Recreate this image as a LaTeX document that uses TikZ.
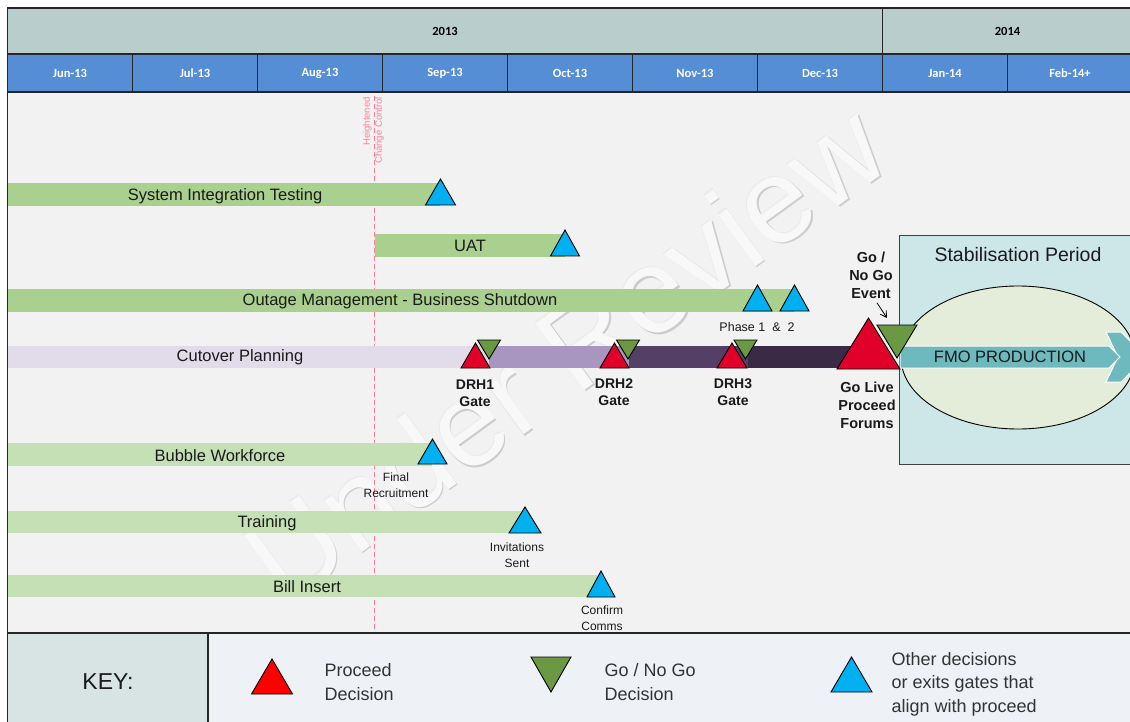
\documentclass[tikz,border=0pt]{standalone}
\usepackage{fontspec}
\setmainfont{Liberation Sans}
\newfontfamily\hdrfont{Carlito}
\usetikzlibrary{arrows.meta}

\definecolor{bodybg}{RGB}{242,242,242}
\definecolor{yearbg}{RGB}{185,205,204}
\definecolor{monthbg}{RGB}{85,142,213}
\definecolor{bardark}{RGB}{169,208,142}
\definecolor{barlight}{RGB}{197,224,180}
\definecolor{cutA}{RGB}{226,220,234}
\definecolor{cutB}{RGB}{168,150,192}
\definecolor{cutC}{RGB}{84,63,102}
\definecolor{cutD}{RGB}{59,42,69}
\definecolor{proceedred}{RGB}{224,0,42}
\definecolor{keyred}{RGB}{255,0,0}
\definecolor{gogreen}{RGB}{107,152,66}
\definecolor{otherblue}{RGB}{0,176,240}
\definecolor{stabbg}{RGB}{205,230,232}
\definecolor{ellbg}{RGB}{227,237,217}
\definecolor{fmoteal}{RGB}{109,185,189}
\definecolor{keyleft}{RGB}{216,227,227}
\definecolor{keyright}{RGB}{238,242,246}
\definecolor{changepink}{RGB}{255,128,153}
\definecolor{gridline}{RGB}{38,38,38}
\definecolor{labeltext}{RGB}{26,26,26}
\definecolor{wmfill}{RGB}{248,248,248}

% upward triangle: base centre (x,y), width, height, fill
\newcommand\uptri[5]{\filldraw[trishape,fill=#5] ({#1-#3/2},#2) -- (#1,{#2-#4}) -- ({#1+#3/2},#2) -- cycle;}
% downward triangle: top centre (x,y), width, height, fill
\newcommand\downtri[5]{\filldraw[trishape,fill=#5] ({#1-#3/2},#2) -- (#1,{#2+#4}) -- ({#1+#3/2},#2) -- cycle;}

\begin{document}
\begin{tikzpicture}[x=1pt,y=-1pt,
  trishape/.style={draw=black,line width=0.9pt,line join=miter},
  hdrline/.style={draw=gridline,line width=1.1pt},
  yeartext/.style={font=\hdrfont\bfseries\fontsize{12.5}{14}\selectfont,text=black},
  monthtext/.style={font=\hdrfont\bfseries\fontsize{12.5}{14}\selectfont,text=white},
  barlabel/.style={font=\fontsize{16.5}{19}\selectfont,text=labeltext},
  gatelabel/.style={font=\bfseries\fontsize{14}{17}\selectfont,text=labeltext,align=center},
  smalllabel/.style={font=\fontsize{12}{15.5}\selectfont,text=labeltext,align=center},
  keytext/.style={font=\fontsize{18}{23.5}\selectfont,text=black!80,align=left,anchor=west},
  wmark/.style={font=\fontsize{120}{130}\selectfont,rotate=36}
]
\useasboundingbox (0,0) rectangle (1130,722);
\fill[white] (0,0) rectangle (1130,722);

% ---------- chart body ----------
\fill[bodybg] (7.5,92) rectangle (1130,633);

% embossed watermark
\node[wmark,text=black!20] (wmshadow) at (566.4,353.4) {Under Review};
\node[wmark,text=black!8] (wmlight) at (563.8,350.8) {Under Review};
\node[wmark,text=wmfill] (wmark) at (565,352) {Under Review};

% heightened change control marker
\draw[changepink,dashed,line width=0.9pt,dash pattern=on 5pt off 3pt] (374,96) -- (374,633);
\node[rotate=90,anchor=east,align=right,inner sep=0pt,text=changepink,
      font=\fontsize{9.5}{12}\selectfont] (hcc) at (373.5,97) {Heightened\\Change Control};

% ---------- header ----------
\fill[yearbg] (7.5,8) rectangle (1132,54);
\fill[monthbg] (7.5,54) rectangle (1132,92);
\draw[hdrline] (7.5,8) rectangle (1132,92);
\draw[hdrline] (7.5,54) -- (1132,54);
\draw[hdrline] (882.5,8) -- (882.5,54);
\foreach \i in {1,...,8}{\draw[hdrline] ({7.5+125*\i},54) -- ({7.5+125*\i},92);}
\node[yeartext] (y2013) at (445,31) {2013};
\node[yeartext] (y2014) at (1007.5,31) {2014};
\foreach \m [count=\i from 0] in {Jun-13,Jul-13,Aug-13,Sep-13,Oct-13,Nov-13,Dec-13,Jan-14,Feb-14+}{
  \node[monthtext] (m\i) at ({70+125*\i},73) {\m};
}

% ---------- stabilisation period ----------
\filldraw[fill=stabbg,draw=black!75,line width=1pt] (899,236) rectangle (1132,464);
\node[font=\fontsize{19.5}{22}\selectfont,text=labeltext] (stab) at (1018,255) {Stabilisation Period};
\filldraw[fill=ellbg,draw=black,line width=0.9pt] (1018,357.5) ellipse [x radius=117,y radius=71.5];
% FMO production arrow
\filldraw[fill=fmoteal,draw=white,line width=1pt]
  (1106,332) -- (1121,332) -- (1146,357) -- (1121,382) -- (1106,382) -- (1118,357) -- cycle;
\filldraw[fill=fmoteal,draw=white,line width=1pt]
  (900,346) -- (1109,346) -- (1120,357) -- (1109,368) -- (900,368) -- cycle;
\node[font=\fontsize{16.5}{19}\selectfont,text=labeltext] (fmo) at (1010,357) {FMO PRODUCTION};

% ---------- work streams ----------
\fill[bardark] (7.5,183) rectangle (440,206);
\node[barlabel] (sit) at (225,196) {System Integration Testing};
\fill[bardark] (375,234) rectangle (565,257);
\node[barlabel] (uat) at (470,246) {UAT};
\fill[bardark] (7.5,289) rectangle (794,312);
\node[barlabel] (outage) at (400,301) {Outage Management - Business Shutdown};

\fill[cutA] (7.5,346) rectangle (489,368);
\fill[cutB] (489,346) rectangle (629,368);
\fill[cutC] (629,346) rectangle (748,368);
\fill[cutD] (748,346) rectangle (856,368);
\node[barlabel] (cutover) at (240,357) {Cutover Planning};

\fill[barlight] (7.5,443) rectangle (432,466);
\node[barlabel] (bubble) at (220,456) {Bubble Workforce};
\fill[barlight] (7.5,511) rectangle (525,533);
\node[barlabel] (training) at (267,523) {Training};
\fill[barlight] (7.5,575) rectangle (600,597);
\node[barlabel] (bill) at (307,587) {Bill Insert};

% ---------- decision markers ----------
\uptri{440.5}{205}{30}{26}{otherblue}
\uptri{565}{256}{29}{26}{otherblue}
\uptri{757.5}{311}{29}{26}{otherblue}
\uptri{794.5}{311}{29}{26}{otherblue}
\node[smalllabel,font=\fontsize{12.5}{15}\selectfont] (phase) at (757,327) {Phase 1\ \ \&\ \ 2};

\uptri{475.5}{368}{29}{25}{proceedred}
\downtri{489}{340}{23}{19}{gogreen}
\uptri{614.5}{368}{29}{25}{proceedred}
\downtri{628}{340}{23}{19}{gogreen}
\uptri{732}{368}{30}{25}{proceedred}
\downtri{745.5}{340}{23}{19}{gogreen}
\node[gatelabel] (drh1) at (475,393) {DRH1\\Gate};
\node[gatelabel] (drh2) at (614,392) {DRH2\\Gate};
\node[gatelabel] (drh3) at (733,392) {DRH3\\Gate};

\uptri{868.5}{369}{63}{51}{proceedred}
\downtri{897}{325}{40}{33}{gogreen}
\node[gatelabel,font=\bfseries\fontsize{14.5}{18}\selectfont] (golive) at (867,405) {Go Live\\Proceed\\Forums};
\node[gatelabel,font=\bfseries\fontsize{14.5}{18}\selectfont] (gonogo) at (871,275) {Go /\\No Go\\Event};
\coordinate (gonogotip) at (887,318);
\draw[-{Straight Barb[length=6pt,width=7pt]},line width=0.8pt] ([xshift=6pt,yshift=-1pt]gonogo.south) -- (gonogotip);

\uptri{432.5}{464}{29}{25}{otherblue}
\node[smalllabel] (finalrec) at (396,485) {Final\\Recruitment};
\uptri{525}{533}{32}{26}{otherblue}
\node[smalllabel] (invsent) at (517,555) {Invitations\\Sent};
\uptri{601}{597}{28}{26}{otherblue}
\node[smalllabel] (confirm) at (602,618) {Confirm\\Comms};

% ---------- key ----------
\fill[keyleft] (7.5,633) rectangle (208,722);
\fill[keyright] (208,633) rectangle (1130,722);
\draw[hdrline] (7.5,633) -- (1130,633);
\draw[hdrline] (208,633) -- (208,722);
\draw[draw=gridline,line width=0.8pt] (7.5,8) -- (7.5,722);
\node[font=\fontsize{23}{26}\selectfont,text=labeltext] (key) at (108,682) {KEY:};
\uptri{272}{694}{41}{35}{keyred}
\node[keytext] (keyproceed) at (321,682) {Proceed\\Decision};
\downtri{551}{657}{40}{35}{gogreen}
\node[keytext] (keygonogo) at (601,682) {Go / No Go\\Decision};
\uptri{851.5}{692}{41}{35}{otherblue}
\node[keytext] (keyother) at (888,684) {Other decisions\\or exits gates that\\align with proceed};
\end{tikzpicture}
\end{document}
